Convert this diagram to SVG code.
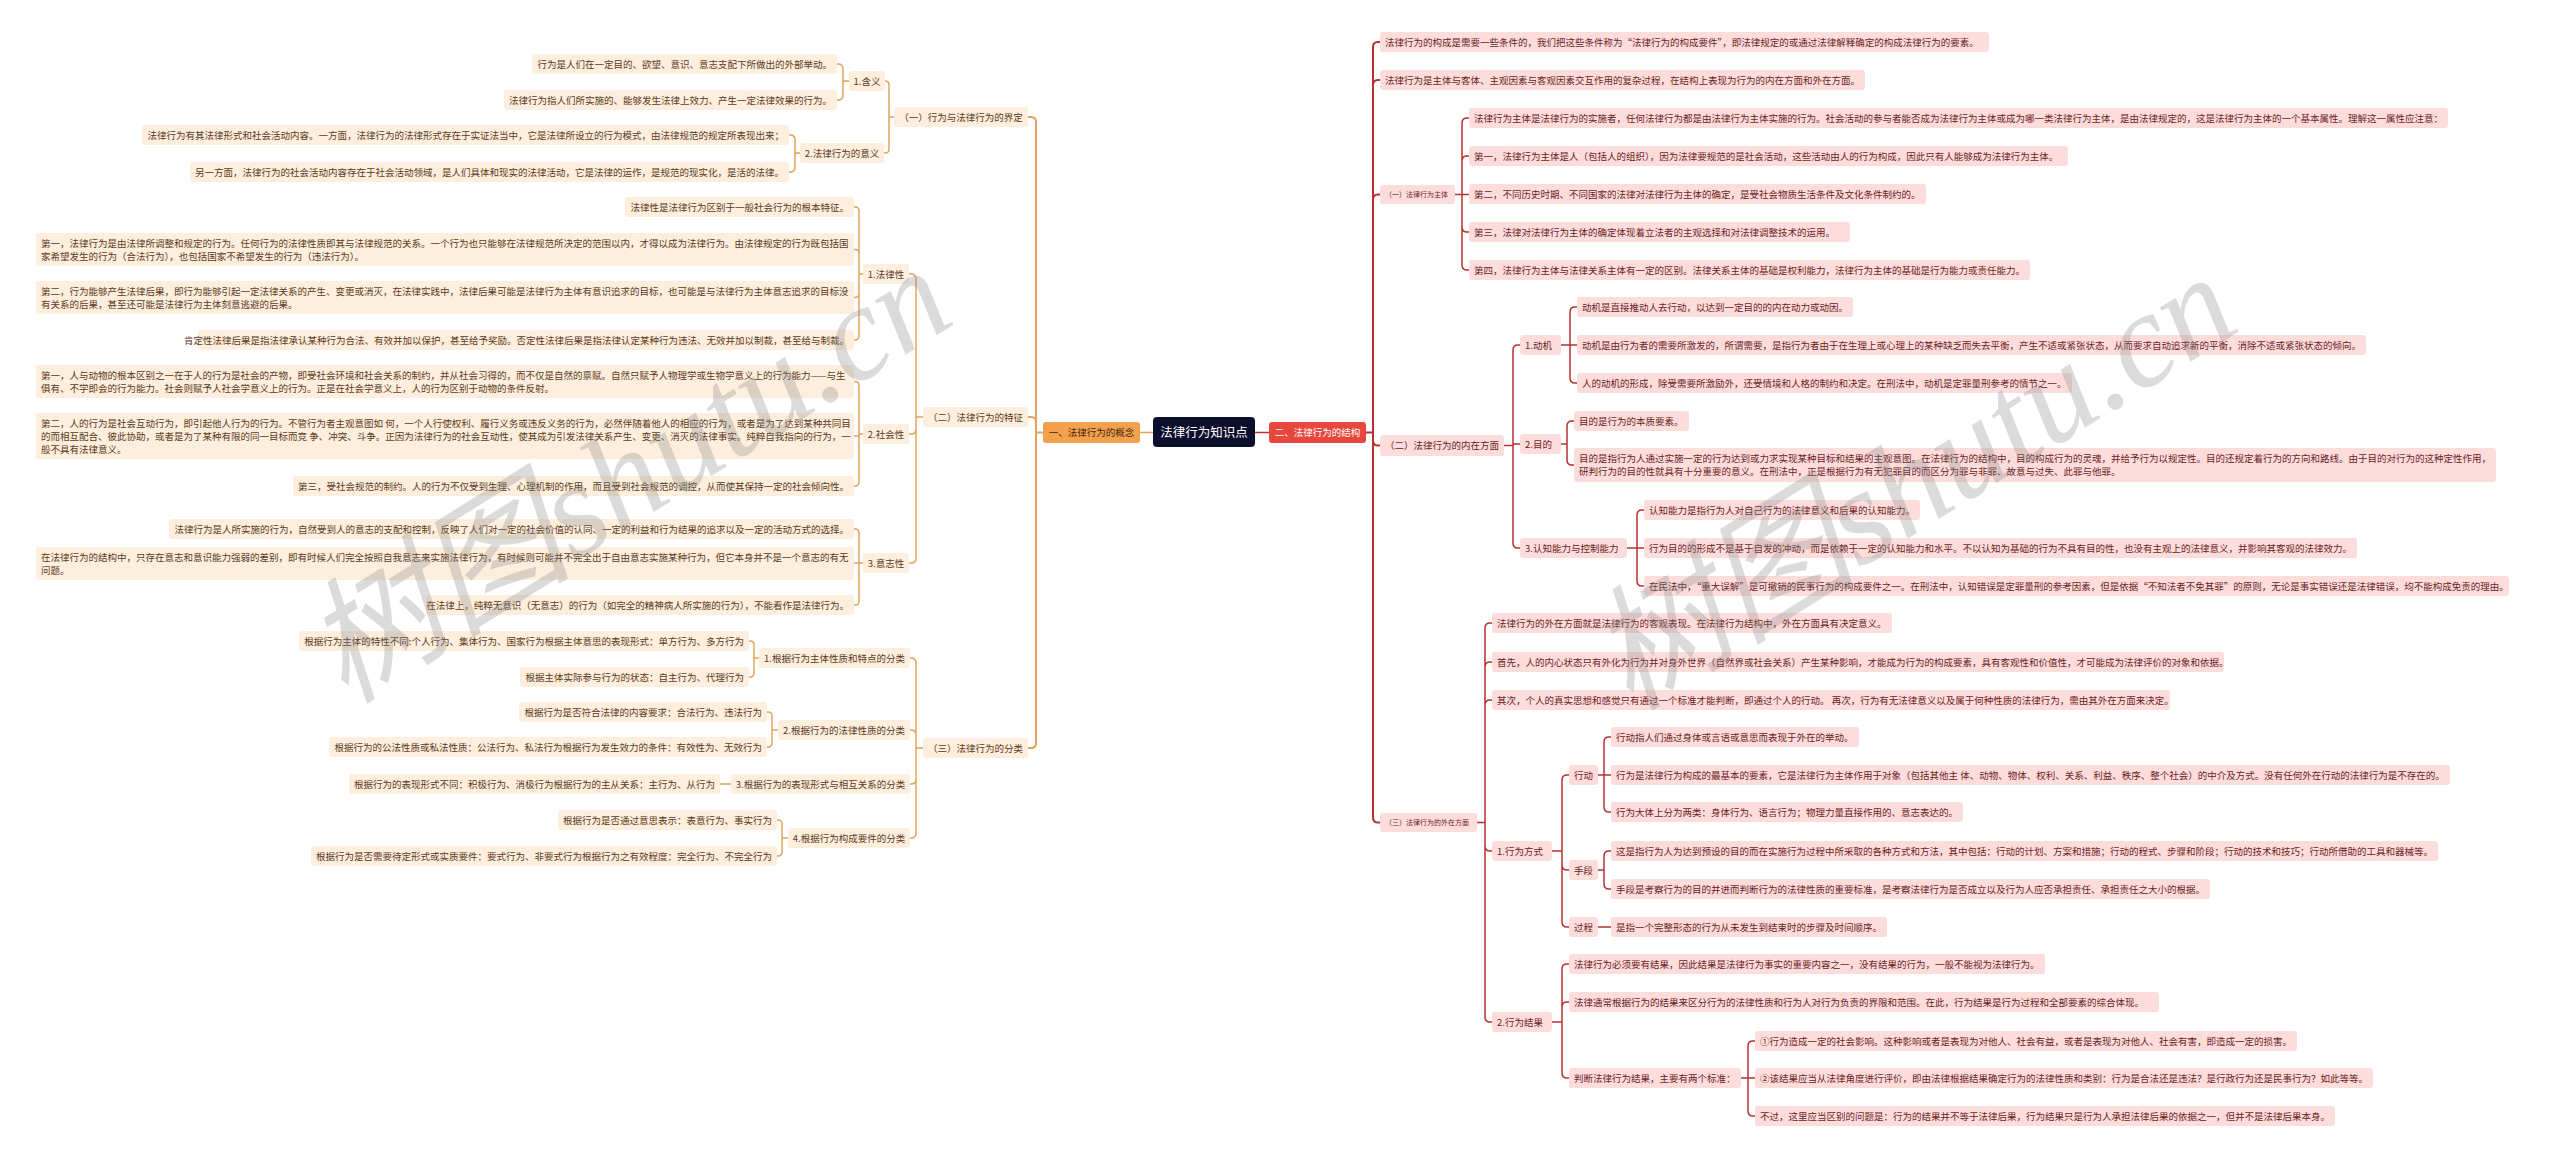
<svg xmlns="http://www.w3.org/2000/svg" width="2560" height="1159" viewBox="0 0 2560 1159">
<style>
text{font-family:"Noto Sans CJK SC","Noto Sans",sans-serif;font-size:9.5px}
.lb{fill:#fdeedd}
.lt{fill:#5b3a1c}
.rb{fill:#fddcdc}
.rt{fill:#6b1e1e}
.e{text-anchor:end}
.m{text-anchor:middle}
.lc{fill:none;stroke:#e2a35f;stroke-width:1.5}
.rc{fill:none;stroke:#b83232;stroke-width:1.5}
.wm{font-family:"Liberation Serif","Noto Sans CJK SC",serif;font-size:135px;font-style:italic;fill:#8a8a8a;opacity:0.3}
</style>
<rect x="0" y="0" width="2560" height="1159" fill="#ffffff"/>
<g id="connectors">
<path class="lc" d="M1153,432.5 H1140"/>
<path class="lc" style="stroke-width:2" d="M1043,432.5 H1036 M1036,432.5 V122 Q1036,117 1031,117 H1028 M1036,432.5 V422 Q1036,417 1031,417 H1028 M1036,432.5 V743 Q1036,748 1031,748 H1028"/>
<path class="lc" d="M894,117 H889 M889,117 V85 Q889,81 885,81 M889,117 V149 Q889,153 885,153 H884"/>
<path class="lc" d="M849,81 H843 M843,81 V69 Q843,64 838,64 H837 M843,81 V95 Q843,100 838,100 H837"/>
<path class="lc" d="M800,153 H795 M795,153 V140 Q795,135 790,135 H789 M795,153 V167 Q795,172 790,172 H789"/>
<path class="lc" d="M923,417 H916 M916,417 V279 Q916,274 911,274 H909 M916,417 V429 Q916,434 911,434 H909 M916,417 V558 Q916,563 911,563 H909"/>
<path class="lc" d="M863,274 H859 M859,274 V211 Q859,207 855,207 H854 M859,274 V253.5 Q859,249.5 855,249.5 H854 M859,274 V293.5 Q859,297.5 855,297.5 H854 M859,274 V336 Q859,340 855,340 H854"/>
<path class="lc" d="M863,434 H859 M859,434 V385.5 Q859,381.5 855,381.5 H854 M859,434 V436 H854 M859,434 V482 Q859,486 855,486 H854"/>
<path class="lc" d="M863,563 H859 M859,563 V533 Q859,529 855,529 H854 M859,563 H854 M859,563 V601 Q859,605 855,605 H854"/>
<path class="lc" d="M923,748 H916 M916,748 V663 Q916,658 911,658 H910 M916,748 V735 Q916,730 911,730 H910 M916,748 V779 Q916,784 911,784 H910 M916,748 V833 Q916,838 911,838 H910"/>
<path class="lc" d="M759,658 H754 M754,658 V645 Q754,641 750,641 H749 M754,658 V673 Q754,677 750,677 H749"/>
<path class="lc" d="M778,730 H772 M772,730 V716 Q772,712 768,712 H767 M772,730 V743 Q772,747 768,747 H767"/>
<path class="lc" d="M731,784 H720"/>
<path class="lc" d="M788,838 H782 M782,838 V824 Q782,820 778,820 H777 M782,838 V852 Q782,856 778,856 H777"/>
<path class="rc" d="M1255,432.5 H1269"/>
<path class="rc" style="stroke-width:2" d="M1366,432.5 H1373 M1373,432.5 V47 Q1373,42 1378,42 H1380 M1373,432.5 V85 Q1373,80 1378,80 H1380 M1373,432.5 V199.5 Q1373,194.5 1378,194.5 H1380 M1373,432.5 V440.5 Q1373,445.5 1378,445.5 H1380 M1373,432.5 V817.5 Q1373,822.5 1378,822.5 H1380"/>
<path class="rc" d="M1455,194.5 H1462 M1462,194.5 V123 Q1462,118 1467,118 H1469 M1462,194.5 V161 Q1462,156 1467,156 H1469 M1462,194.5 H1469 M1462,194.5 V227 Q1462,232 1467,232 H1469 M1462,194.5 V265 Q1462,270 1467,270 H1469"/>
<path class="rc" d="M1504,445.5 H1513 M1513,445.5 V350 Q1513,345 1518,345 H1520 M1513,445.5 V444 H1520 M1513,445.5 V543 Q1513,548 1518,548 H1520"/>
<path class="rc" d="M1561,345 H1570 M1570,345 V312 Q1570,307 1575,307 H1577 M1570,345 H1577 M1570,345 V378 Q1570,383 1575,383 H1577"/>
<path class="rc" d="M1561,444 H1567 M1567,444 V426 Q1567,421 1572,421 H1574 M1567,444 V460 Q1567,465 1572,465 H1574"/>
<path class="rc" d="M1627,548 H1637 M1637,548 V515 Q1637,510 1642,510 H1644 M1637,548 H1644 M1637,548 V581 Q1637,586 1642,586 H1644"/>
<path class="rc" d="M1477,822.5 H1485 M1485,822.5 V628 Q1485,623 1490,623 H1492 M1485,822.5 V667 Q1485,662 1490,662 H1492 M1485,822.5 V705 Q1485,700 1490,700 H1492 M1485,822.5 V846 Q1485,851 1490,851 H1492 M1485,822.5 V1017 Q1485,1022 1490,1022 H1492"/>
<path class="rc" d="M1552,851 H1562 M1562,851 V780 Q1562,775 1567,775 H1569 M1562,851 V865 Q1562,870 1567,870 H1569 M1562,851 V922 Q1562,927 1567,927 H1569"/>
<path class="rc" d="M1598,775 H1604 M1604,775 V742 Q1604,737 1609,737 H1611 M1604,775 H1611 M1604,775 V807 Q1604,812 1609,812 H1611"/>
<path class="rc" d="M1598,870 H1604 M1604,870 V856 Q1604,851 1609,851 H1611 M1604,870 V884 Q1604,889 1609,889 H1611"/>
<path class="rc" d="M1598,927 H1611"/>
<path class="rc" d="M1552,1022 H1562 M1562,1022 V969 Q1562,964 1567,964 H1569 M1562,1022 V1007 Q1562,1002 1567,1002 H1569 M1562,1022 V1073 Q1562,1078 1567,1078 H1569"/>
<path class="rc" d="M1741,1078 H1748 M1748,1078 V1046 Q1748,1041 1753,1041 H1755 M1748,1078 H1755 M1748,1078 V1111 Q1748,1116 1753,1116 H1755"/>
</g>
<g id="root"><rect x="1153" y="417" width="102" height="30" rx="4" fill="#0b0e2c"/><text x="1204" y="436.5" class="m" style="font-size:12.5px" fill="#ffffff">法律行为知识点</text></g>
<g id="left1"><rect x="1043" y="422" width="97" height="21" rx="3" fill="#f3a14c"/><text x="1091.5" y="436" class="m" fill="#3d2810">一、法律行为的概念</text></g>
<g id="right1"><rect x="1269" y="422" width="97" height="21" rx="3" fill="#e8473e"/><text x="1317.5" y="436" class="m" fill="#ffffff">二、法律行为的结构</text></g>
<g id="l-a"><rect class="lb" x="894" y="107" width="134" height="20" rx="3"/><text class="lt m" x="961" y="120.5">（一）行为与法律行为的界定</text></g>
<g id="l-a1"><rect class="lb" x="849" y="71" width="36" height="20" rx="3"/><text class="lt m" x="867" y="84.5">1.含义</text></g>
<g id="l-a1-1"><rect class="lb" x="532" y="54" width="305" height="20" rx="3"/><text class="lt e" x="832" y="67.5">行为是人们在一定目的、欲望、意识、意志支配下所做出的外部举动。</text></g>
<g id="l-a1-2"><rect class="lb" x="504" y="90" width="333" height="20" rx="3"/><text class="lt e" x="832" y="103.5">法律行为指人们所实施的、能够发生法律上效力、产生一定法律效果的行为。</text></g>
<g id="l-a2"><rect class="lb" x="800" y="143" width="84" height="20" rx="3"/><text class="lt m" x="842" y="156.5">2.法律行为的意义</text></g>
<g id="l-a2-1"><rect class="lb" x="142" y="125" width="647" height="20" rx="3"/><text class="lt e" x="784" y="138.5">法律行为有其法律形式和社会活动内容。一方面，法律行为的法律形式存在于实证法当中，它是法律所设立的行为模式，由法律规范的规定所表现出来；</text></g>
<g id="l-a2-2"><rect class="lb" x="190" y="162" width="599" height="20" rx="3"/><text class="lt e" x="784" y="175.5">另一方面，法律行为的社会活动内容存在于社会活动领域，是人们具体和现实的法律活动，它是法律的运作，是规范的现实化，是活的法律。</text></g>
<g id="l-b"><rect class="lb" x="923" y="407" width="105" height="20" rx="3"/><text class="lt m" x="975.5" y="420.5">（二）法律行为的特征</text></g>
<g id="l-b1"><rect class="lb" x="863" y="264" width="46" height="20" rx="3"/><text class="lt m" x="886" y="277.5">1.法律性</text></g>
<g id="l-b1-1"><rect class="lb" x="625" y="197" width="229" height="20" rx="3"/><text class="lt e" x="849" y="210.5">法律性是法律行为区别于一般社会行为的根本特征。</text></g>
<g id="l-b1-2"><rect class="lb" x="36" y="233" width="818" height="33" rx="3"/><text class="lt" x="41" y="246.5">第一，法律行为是由法律所调整和规定的行为。任何行为的法律性质即其与法律规范的关系。一个行为也只能够在法律规范所决定的范围以内，才得以成为法律行为。由法律规定的行为既包括国</text><text class="lt" x="41" y="259.5">家希望发生的行为（合法行为），也包括国家不希望发生的行为（违法行为）。</text></g>
<g id="l-b1-3"><rect class="lb" x="36" y="281" width="818" height="33" rx="3"/><text class="lt" x="41" y="294.5">第二，行为能够产生法律后果，即行为能够引起一定法律关系的产生、变更或消灭，在法律实践中，法律后果可能是法律行为主体有意识追求的目标，也可能是与法律行为主体意志追求的目标没</text><text class="lt" x="41" y="307.5">有关系的后果，甚至还可能是法律行为主体刻意逃避的后果。</text></g>
<g id="l-b1-4"><rect class="lb" x="198" y="330" width="656" height="20" rx="3"/><text class="lt e" x="849" y="343.5">肯定性法律后果是指法律承认某种行为合法、有效并加以保护，甚至给予奖励。否定性法律后果是指法律认定某种行为违法、无效并加以制裁，甚至给与制裁。</text></g>
<g id="l-b2"><rect class="lb" x="863" y="424" width="46" height="20" rx="3"/><text class="lt m" x="886" y="437.5">2.社会性</text></g>
<g id="l-b2-1"><rect class="lb" x="36" y="365" width="818" height="33" rx="3"/><text class="lt" x="41" y="378.5">第一，人与动物的根本区别之一在于人的行为是社会的产物，即受社会环境和社会关系的制约，并从社会习得的，而不仅是自然的禀赋。自然只赋予人物理学或生物学意义上的行为能力——与生</text><text class="lt" x="41" y="391.5">俱有、不学即会的行为能力。社会则赋予人社会学意义上的行为。正是在社会学意义上，人的行为区别于动物的条件反射。</text></g>
<g id="l-b2-2"><rect class="lb" x="36" y="413" width="818" height="46" rx="3"/><text class="lt" x="41" y="426.5">第二，人的行为是社会互动行为，即引起他人行为的行为。不管行为者主观意图如 何，一个人行使权利、履行义务或违反义务的行为，必然伴随着他人的相应的行为，或者是为了达到某种共同目</text><text class="lt" x="41" y="439.5">的而相互配合、彼此协助，或者是为了某种有限的同一目标而竞 争、冲突、斗争。正因为法律行为的社会互动性，使其成为引发法律关系产生、变更、消灭的法律事实。纯粹自我指向的行为，一</text><text class="lt" x="41" y="452.5">般不具有法律意义。</text></g>
<g id="l-b2-3"><rect class="lb" x="293" y="476" width="561" height="20" rx="3"/><text class="lt e" x="849" y="489.5">第三，受社会规范的制约。人的行为不仅受到生理、心理机制的作用，而且受到社会规范的调控，从而使其保持一定的社会倾向性。</text></g>
<g id="l-b3"><rect class="lb" x="863" y="553" width="46" height="20" rx="3"/><text class="lt m" x="886" y="566.5">3.意志性</text></g>
<g id="l-b3-1"><rect class="lb" x="169" y="519" width="685" height="20" rx="3"/><text class="lt e" x="849" y="532.5">法律行为是人所实施的行为，自然受到人的意志的支配和控制，反映了人们对一定的社会价值的认同、一定的利益和行为结果的追求以及一定的活动方式的选择。</text></g>
<g id="l-b3-2"><rect class="lb" x="36" y="547" width="818" height="33" rx="3"/><text class="lt" x="41" y="560.5">在法律行为的结构中，只存在意志和意识能力强弱的差别，即有时候人们完全按照自我意志来实施法律行为，有时候则可能并不完全出于自由意志实施某种行为，但它本身并不是一个意志的有无</text><text class="lt" x="41" y="573.5">问题。</text></g>
<g id="l-b3-3"><rect class="lb" x="426" y="595" width="428" height="20" rx="3"/><text class="lt e" x="849" y="608.5">在法律上，纯粹无意识（无意志）的行为（如完全的精神病人所实施的行为），不能看作是法律行为。</text></g>
<g id="l-c"><rect class="lb" x="923" y="738" width="105" height="20" rx="3"/><text class="lt m" x="975.5" y="751.5">（三）法律行为的分类</text></g>
<g id="l-c1"><rect class="lb" x="759" y="648" width="151" height="20" rx="3"/><text class="lt m" x="834.5" y="661.5">1.根据行为主体性质和特点的分类</text></g>
<g id="l-c1-1"><rect class="lb" x="299" y="631" width="450" height="20" rx="3"/><text class="lt e" x="744" y="644.5">根据行为主体的特性不同:个人行为、集体行为、国家行为根据主体意思的表现形式：单方行为、多方行为</text></g>
<g id="l-c1-2"><rect class="lb" x="520" y="667" width="229" height="20" rx="3"/><text class="lt e" x="744" y="680.5">根据主体实际参与行为的状态：自主行为、代理行为</text></g>
<g id="l-c2"><rect class="lb" x="778" y="720" width="132" height="20" rx="3"/><text class="lt m" x="844" y="733.5">2.根据行为的法律性质的分类</text></g>
<g id="l-c2-1"><rect class="lb" x="519" y="702" width="248" height="20" rx="3"/><text class="lt e" x="762" y="715.5">根据行为是否符合法律的内容要求：合法行为、违法行为</text></g>
<g id="l-c2-2"><rect class="lb" x="329" y="737" width="438" height="20" rx="3"/><text class="lt e" x="762" y="750.5">根据行为的公法性质或私法性质：公法行为、私法行为根据行为发生效力的条件：有效性为、无效行为</text></g>
<g id="l-c3"><rect class="lb" x="731" y="774" width="179" height="20" rx="3"/><text class="lt m" x="820.5" y="787.5">3.根据行为的表现形式与相互关系的分类</text></g>
<g id="l-c3-1"><rect class="lb" x="349" y="774" width="371" height="20" rx="3"/><text class="lt e" x="715" y="787.5">根据行为的表现形式不同：积极行为、消极行为根据行为的主从关系：主行为、从行为</text></g>
<g id="l-c4"><rect class="lb" x="788" y="828" width="122" height="20" rx="3"/><text class="lt m" x="849" y="841.5">4.根据行为构成要件的分类</text></g>
<g id="l-c4-1"><rect class="lb" x="558" y="810" width="219" height="20" rx="3"/><text class="lt e" x="772" y="823.5">根据行为是否通过意思表示：表意行为、事实行为</text></g>
<g id="l-c4-2"><rect class="lb" x="311" y="846" width="466" height="20" rx="3"/><text class="lt e" x="772" y="859.5">根据行为是否需要待定形式或实质要件：要式行为、非要式行为根据行为之有效程度：完全行为、不完全行为</text></g>
<g id="r-a"><rect class="rb" x="1380" y="32" width="609" height="20" rx="3"/><text class="rt" x="1385" y="45.5">法律行为的构成是需要一些条件的，我们把这些条件称为“法律行为的构成要件”，即法律规定的或通过法律解释确定的构成法律行为的要素。</text></g>
<g id="r-b"><rect class="rb" x="1380" y="70" width="485" height="20" rx="3"/><text class="rt" x="1385" y="83.5">法律行为是主体与客体、主观因素与客观因素交互作用的复杂过程，在结构上表现为行为的内在方面和外在方面。</text></g>
<g id="r-c"><rect class="rb" x="1380" y="185" width="75" height="19" rx="3"/><text class="rt" x="1385" y="197" style="font-size:7px">（一）法律行为主体</text></g>
<g id="r-c1"><rect class="rb" x="1469" y="108" width="979" height="20" rx="3"/><text class="rt" x="1474" y="121.5">法律行为主体是法律行为的实施者，任何法律行为都是由法律行为主体实施的行为。社会活动的参与者能否成为法律行为主体或成为哪一类法律行为主体，是由法律规定的，这是法律行为主体的一个基本属性。理解这一属性应注意：</text></g>
<g id="r-c2"><rect class="rb" x="1469" y="146" width="599" height="20" rx="3"/><text class="rt" x="1474" y="159.5">第一，法律行为主体是人（包括人的组织），因为法律要规范的是社会活动，这些活动由人的行为构成，因此只有人能够成为法律行为主体。</text></g>
<g id="r-c3"><rect class="rb" x="1469" y="184" width="457" height="20" rx="3"/><text class="rt" x="1474" y="197.5">第二，不同历史时期、不同国家的法律对法律行为主体的确定，是受社会物质生活条件及文化条件制约的。</text></g>
<g id="r-c4"><rect class="rb" x="1469" y="222" width="381" height="20" rx="3"/><text class="rt" x="1474" y="235.5">第三，法律对法律行为主体的确定体现着立法者的主观选择和对法律调整技术的运用。</text></g>
<g id="r-c5"><rect class="rb" x="1469" y="260" width="561" height="20" rx="3"/><text class="rt" x="1474" y="273.5">第四，法律行为主体与法律关系主体有一定的区别。法律关系主体的基础是权利能力，法律行为主体的基础是行为能力或责任能力。</text></g>
<g id="r-d"><rect class="rb" x="1380" y="435" width="124" height="21" rx="3"/><text class="rt" x="1385" y="449">（二）法律行为的内在方面</text></g>
<g id="r-d1"><rect class="rb" x="1520" y="335" width="41" height="20" rx="3"/><text class="rt" x="1525" y="348.5">1.动机</text></g>
<g id="r-d1-1"><rect class="rb" x="1577" y="297" width="276" height="20" rx="3"/><text class="rt" x="1582" y="310.5">动机是直接推动人去行动，以达到一定目的的内在动力或动因。</text></g>
<g id="r-d1-2"><rect class="rb" x="1577" y="335" width="789" height="20" rx="3"/><text class="rt" x="1582" y="348.5">动机是由行为者的需要所激发的，所谓需要，是指行为者由于在生理上或心理上的某种缺乏而失去平衡，产生不适或紧张状态，从而要求自动追求新的平衡，消除不适或紧张状态的倾向。</text></g>
<g id="r-d1-3"><rect class="rb" x="1577" y="373" width="495" height="20" rx="3"/><text class="rt" x="1582" y="386.5">人的动机的形成，除受需要所激励外，还受情境和人格的制约和决定。在刑法中，动机是定罪量刑参考的情节之一。</text></g>
<g id="r-d2"><rect class="rb" x="1520" y="434" width="41" height="20" rx="3"/><text class="rt" x="1525" y="447.5">2.目的</text></g>
<g id="r-d2-1"><rect class="rb" x="1574" y="411" width="115" height="20" rx="3"/><text class="rt" x="1579" y="424.5">目的是行为的本质要素。</text></g>
<g id="r-d2-2"><rect class="rb" x="1574" y="448" width="922" height="34" rx="3"/><text class="rt" x="1579" y="461.5">目的是指行为人通过实施一定的行为达到或力求实现某种目标和结果的主观意图。在法律行为的结构中，目的构成行为的灵魂，并给予行为以规定性。目的还规定着行为的方向和路线。由于目的对行为的这种定性作用，</text><text class="rt" x="1579" y="475">研判行为的目的性就具有十分重要的意义。在刑法中，正是根据行为有无犯罪目的而区分为罪与非罪、故意与过失、此罪与他罪。</text></g>
<g id="r-d3"><rect class="rb" x="1520" y="538" width="107" height="20" rx="3"/><text class="rt" x="1525" y="551.5">3.认知能力与控制能力</text></g>
<g id="r-d3-1"><rect class="rb" x="1644" y="500" width="276" height="20" rx="3"/><text class="rt" x="1649" y="513.5">认知能力是指行为人对自己行为的法律意义和后果的认知能力。</text></g>
<g id="r-d3-2"><rect class="rb" x="1644" y="538" width="713" height="20" rx="3"/><text class="rt" x="1649" y="551.5">行为目的的形成不是基于自发的冲动，而是依赖于一定的认知能力和水平。不以认知为基础的行为不具有目的性，也没有主观上的法律意义，并影响其客观的法律效力。</text></g>
<g id="r-d3-3"><rect class="rb" x="1644" y="576" width="865" height="20" rx="3"/><text class="rt" x="1649" y="589.5">在民法中，“重大误解”是可撤销的民事行为的构成要件之一。在刑法中，认知错误是定罪量刑的参考因素，但是依据“不知法者不免其罪”的原则，无论是事实错误还是法律错误，均不能构成免责的理由。</text></g>
<g id="r-e"><rect class="rb" x="1380" y="813" width="97" height="19" rx="3"/><text class="rt" x="1385" y="825" style="font-size:7px">（三）法律行为的外在方面</text></g>
<g id="r-e-1"><rect class="rb" x="1492" y="613" width="400" height="20" rx="3"/><text class="rt" x="1497" y="626.5">法律行为的外在方面就是法律行为的客观表现。在法律行为结构中，外在方面具有决定意义。</text></g>
<g id="r-e-2"><rect class="rb" x="1492" y="652" width="732" height="20" rx="3"/><text class="rt" x="1497" y="665.5">首先，人的内心状态只有外化为行为并对身外世界（自然界或社会关系）产生某种影响，才能成为行为的构成要素，具有客观性和价值性，才可能成为法律评价的对象和依据。</text></g>
<g id="r-e-3"><rect class="rb" x="1492" y="690" width="678" height="20" rx="3"/><text class="rt" x="1497" y="703.5">其次，个人的真实思想和感觉只有通过一个标准才能判断，即通过个人的行动。 再次，行为有无法律意义以及属于何种性质的法律行为，需由其外在方面来决定。</text></g>
<g id="r-e1"><rect class="rb" x="1492" y="841" width="60" height="20" rx="3"/><text class="rt" x="1497" y="854.5">1.行为方式</text></g>
<g id="r-e1-a"><rect class="rb" x="1569" y="765" width="29" height="20" rx="3"/><text class="rt" x="1574" y="778.5">行动</text></g>
<g id="r-e1-a1"><rect class="rb" x="1611" y="727" width="248" height="20" rx="3"/><text class="rt" x="1616" y="740.5">行动指人们通过身体或言语或意思而表现于外在的举动。</text></g>
<g id="r-e1-a2"><rect class="rb" x="1611" y="765" width="839" height="20" rx="3"/><text class="rt" x="1616" y="778.5">行为是法律行为构成的最基本的要素，它是法律行为主体作用于对象（包括其他主 体、动物、物体、权利、关系、利益、秩序、整个社会）的中介及方式。没有任何外在行动的法律行为是不存在的。</text></g>
<g id="r-e1-a3"><rect class="rb" x="1611" y="802" width="352" height="20" rx="3"/><text class="rt" x="1616" y="815.5">行为大体上分为两类：身体行为、语言行为；物理力量直接作用的、意志表达的。</text></g>
<g id="r-e1-b"><rect class="rb" x="1569" y="860" width="29" height="20" rx="3"/><text class="rt" x="1574" y="873.5">手段</text></g>
<g id="r-e1-b1"><rect class="rb" x="1611" y="841" width="827" height="20" rx="3"/><text class="rt" x="1616" y="854.5">这是指行为人为达到预设的目的而在实施行为过程中所采取的各种方式和方法，其中包括：行动的计划、方案和措施；行动的程式、步骤和阶段；行动的技术和技巧；行动所借助的工具和器械等。</text></g>
<g id="r-e1-b2"><rect class="rb" x="1611" y="879" width="599" height="20" rx="3"/><text class="rt" x="1616" y="892.5">手段是考察行为的目的并进而判断行为的法律性质的重要标准，是考察法律行为是否成立以及行为人应否承担责任、承担责任之大小的根据。</text></g>
<g id="r-e1-c"><rect class="rb" x="1569" y="917" width="29" height="20" rx="3"/><text class="rt" x="1574" y="930.5">过程</text></g>
<g id="r-e1-c1"><rect class="rb" x="1611" y="917" width="276" height="20" rx="3"/><text class="rt" x="1616" y="930.5">是指一个完整形态的行为从未发生到结束时的步骤及时间顺序。</text></g>
<g id="r-e2"><rect class="rb" x="1492" y="1012" width="60" height="20" rx="3"/><text class="rt" x="1497" y="1025.5">2.行为结果</text></g>
<g id="r-e2-1"><rect class="rb" x="1569" y="954" width="476" height="20" rx="3"/><text class="rt" x="1574" y="967.5">法律行为必须要有结果，因此结果是法律行为事实的重要内容之一，没有结果的行为，一般不能视为法律行为。</text></g>
<g id="r-e2-2"><rect class="rb" x="1569" y="992" width="590" height="20" rx="3"/><text class="rt" x="1574" y="1005.5">法律通常根据行为的结果来区分行为的法律性质和行为人对行为负责的界限和范围。在此，行为结果是行为过程和全部要素的综合体现。</text></g>
<g id="r-e2-3"><rect class="rb" x="1569" y="1068" width="172" height="20" rx="3"/><text class="rt" x="1574" y="1081.5">判断法律行为结果，主要有两个标准：</text></g>
<g id="r-e2-3a"><rect class="rb" x="1755" y="1031" width="542" height="20" rx="3"/><text class="rt" x="1760" y="1044.5">①行为造成一定的社会影响。这种影响或者是表现为对他人、社会有益，或者是表现为对他人、社会有害，即造成一定的损害。</text></g>
<g id="r-e2-3b"><rect class="rb" x="1755" y="1068" width="618" height="20" rx="3"/><text class="rt" x="1760" y="1081.5">②该结果应当从法律角度进行评价，即由法律根据结果确定行为的法律性质和类别：行为是合法还是违法？是行政行为还是民事行为？如此等等。</text></g>
<g id="r-e2-3c"><rect class="rb" x="1755" y="1106" width="580" height="20" rx="3"/><text class="rt" x="1760" y="1119.5">不过，这里应当区别的问题是：行为的结果并不等于法律后果，行为结果只是行为人承担法律后果的依据之一，但并不是法律后果本身。</text></g>
<g id="watermark">
<text class="wm" transform="translate(345,705) rotate(-32)">树图shutu.cn</text>
<text class="wm" transform="translate(1630,712) rotate(-32)">树图shutu.cn</text>
</g>
</svg>
